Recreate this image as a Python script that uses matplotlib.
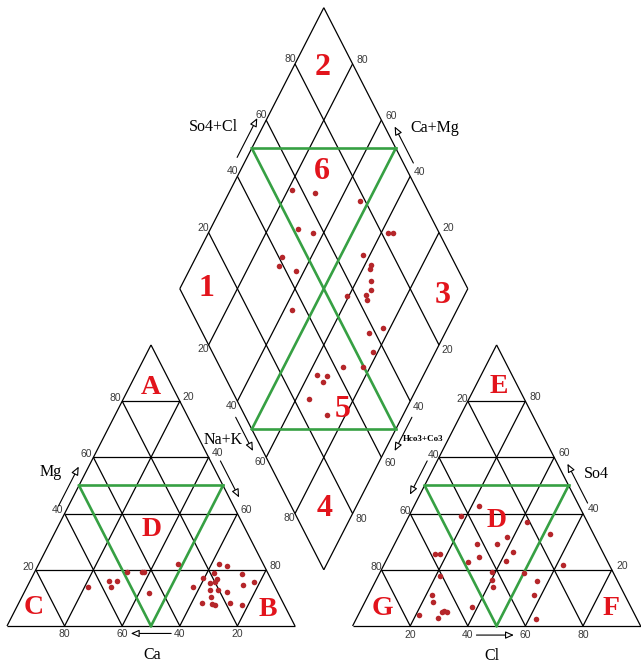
import numpy as np
import matplotlib.pyplot as plt

# cations in % meq/l (left triangle), Na+K is the rest
ca = [65.0, 56.4, 53.9, 57.0, 48.8, 43.6, 43.0, 44.9, 29.5,
      15.4, 13.0, 18.6, 23.2, 18.8, 20.0, 28.3, 21.9, 9.1, 10.7,
      6.2, 23.1, 20.4, 17.4, 24.0, 28.3, 24.8, 24.0, 18.5, 14.5]
mg = [13.9, 16.1, 16.0, 14.0, 19.3, 19.3, 19.2, 11.6, 22.1,
      22.0, 21.4, 18.8, 17.2, 16.7, 15.6, 14.0, 15.2, 18.4, 14.6,
      15.8, 12.8, 12.8, 12.2, 10.4, 8.1, 7.7, 7.5, 8.1, 7.5]

# anions in % meq/l (right triangle), Hco3+Co3 is the rest
cl = [22.6, 18.1, 41.9, 52.4, 37.8, 28.7, 35.7, 15.8, 17.5, 42.7,
      31.8, 28.7, 41.7, 62.1, 21.4, 38.6, 50.1, 40.1, 56.1, 42.0,
      22.0, 23.7, 57.5, 38.0, 28.4, 29.1, 30.2, 21.1, 28.2, 62.4]
so4 = [42.8, 39.1, 37.1, 32.6, 31.8, 29.2, 29.1, 25.6, 25.6, 26.2,
       24.4, 22.9, 23.2, 21.6, 17.9, 19.3, 19.0, 16.4, 16.1, 13.7,
       11.0, 8.6, 11.0, 6.9, 5.1, 5.4, 5.1, 3.9, 2.7, 2.5]

# diamond : So4+Cl and Ca+Mg in %
so4_cl = [56.6, 63.9, 78.2, 51.5, 56.2, 82.4, 83.9, 41.1, 38.5, 43.4,
          69.5, 70.7, 69.5, 68.0, 66.0, 56.8, 63.5, 63.0, 35.0, 63.5,
          57.8, 55.7, 42.8, 49.6, 32.2, 35.4, 33.1, 25.3, 28.6]
ca_mg = [78.5, 70.0, 53.1, 69.6, 63.5, 37.6, 36.0, 70.3, 69.5, 62.9,
         42.4, 37.7, 37.4, 34.9, 33.4, 40.7, 34.2, 33.0, 57.3, 22.6,
         26.4, 21.8, 29.3, 22.4, 37.1, 33.4, 33.8, 35.4, 26.5]

ticks = [20, 40, 60, 80]

gap = 20                 # space between the two triangles
h = np.sqrt(3) / 2

line_col = 'black'
green = '#36a043'
dot_col = '#b5262a'
red = '#e2141c'


def cation_xy(c, m):   # Ca, Mg -> plot coords
    c, m = np.asarray(c, float), np.asarray(m, float)
    return 100 - c - m / 2, m * h


def anion_xy(c, s):    # Cl, So4 -> plot coords
    c, s = np.asarray(c, float), np.asarray(s, float)
    return 100 + gap + c + s / 2, s * h


def diamond_xy(a, b):  # So4+Cl, Ca+Mg -> plot coords
    a, b = np.asarray(a, float), np.asarray(b, float)
    return 100 + gap / 2 + (a - b) / 2, gap / 2 * np.sqrt(3) + (a + b) * h


def seg(f, p, q, **kw):
    x0, y0 = f(*p)
    x1, y1 = f(*q)
    ax.plot([x0, x1], [y0, y1], **kw)


def arrow(f, p, q, off):
    x0, y0 = f(*p)
    x1, y1 = f(*q)
    ax.annotate('', xy=(x1 + off[0], y1 + off[1]), xytext=(x0 + off[0], y0 + off[1]),
                arrowprops=dict(arrowstyle='-|>,head_length=0.5,head_width=0.22',
                                fc='white', ec='black', lw=0.8, shrinkA=0, shrinkB=0))


fig = plt.figure(figsize=(6.41, 6.66), dpi=100)
ax = fig.add_axes([0, 0, 1, 1])
ax.set_xlim(-2.43, 220.14)
ax.set_ylim(-12.33, 192.9)
ax.axis('off')

lk = dict(color=line_col, lw=0.9, zorder=1, solid_capstyle='butt')

# triangle outlines and grids
for f, corners in [(cation_xy, [(100, 0), (0, 0), (0, 100), (100, 0)]),
                   (anion_xy, [(0, 0), (100, 0), (0, 100), (0, 0)])]:
    for p, q in zip(corners[:-1], corners[1:]):
        seg(f, p, q, **lk)
for t in ticks:
    seg(cation_xy, (100 - t, t), (0, t), **lk)       # Mg
    seg(cation_xy, (t, 0), (t, 100 - t), **lk)       # Ca
    seg(cation_xy, (100 - t, 0), (0, 100 - t), **lk)  # Na+K
    seg(anion_xy, (0, t), (100 - t, t), **lk)        # So4
    seg(anion_xy, (t, 0), (t, 100 - t), **lk)        # Cl
    seg(anion_xy, (0, 100 - t), (100 - t, 0), **lk)  # Hco3
    seg(diamond_xy, (t, 0), (t, 100), **lk)
    seg(diamond_xy, (0, t), (100, t), **lk)
for p, q in [((0, 0), (100, 0)), ((100, 0), (100, 100)),
             ((100, 100), (0, 100)), ((0, 100), (0, 0))]:
    seg(diamond_xy, p, q, **lk)

# green zones
gk = dict(color=green, lw=1.9, zorder=2)
for f, pts in [(cation_xy, [(50, 50), (0, 50), (50, 0), (50, 50)]),
               (anion_xy, [(0, 50), (50, 50), (50, 0), (0, 50)]),
               (diamond_xy, [(50, 100), (100, 50), (0, 50), (50, 0), (50, 100)])]:
    for p, q in zip(pts[:-1], pts[1:]):
        seg(f, p, q, **gk)

# samples
ax.scatter(*cation_xy(ca, mg), s=16, color=dot_col, zorder=3, lw=0)
ax.scatter(*anion_xy(cl, so4), s=16, color=dot_col, zorder=3, lw=0)
ax.scatter(*diamond_xy(so4_cl, ca_mg), s=16, color=dot_col, zorder=3, lw=0)

# tick labels
tk = dict(fontsize=7.5, color='#3a3a3a', family='Liberation Sans', va='center')
for t in ticks:
    s = str(t)
    x, y = cation_xy(100 - t, t)
    ax.text(x - 0.5, y + 1.0, s, ha='right', **tk)
    x, y = cation_xy(0, 100 - t)
    ax.text(x + 1.0, y + 1.2, s, ha='left', **tk)
    x, y = cation_xy(t, 0)
    ax.text(x, -2.5, s, ha='center', **tk)
    x, y = anion_xy(0, 100 - t)
    ax.text(x + 0.2, y + 0.8, s, ha='right', **tk)
    x, y = anion_xy(100 - t, t)
    ax.text(x + 1.5, y + 1.3, s, ha='left', **tk)
    x, y = anion_xy(t, 0)
    ax.text(x, -2.7, s, ha='center', **tk)
    x, y = diamond_xy(t, 100)
    ax.text(x + 0.3, y + 1.5, s, ha='right', **tk)
    x, y = diamond_xy(100, t)
    ax.text(x + 1.3, y + 1.3, s, ha='left', **tk)
    x, y = diamond_xy(0, 100 - t)
    ax.text(x, y - 1.4, s, ha='right', **tk)
    x, y = diamond_xy(100 - t, 0)
    ax.text(x + 1.0, y - 1.7, s, ha='left', **tk)

# axis names and arrows
nk = dict(fontsize=11.5, family='Liberation Serif', ha='center', va='center')
ax.text(15.3, 47.5, 'Mg', **nk)
ax.text(50.5, -8.9, 'Ca', **nk)
ax.text(75.2, 57.3, 'Na+K', **nk)
ax.text(71.7, 153.8, 'So4+Cl', **nk)
ax.text(148.6, 153.5, 'Ca+Mg', **nk)
ax.text(204.7, 46.8, 'So4', **nk)
ax.text(168.4, -9.4, 'Cl', **nk)
ax.text(144.6, 57.6, 'Hco3+Co3', fontsize=6.5, fontweight='bold',
        family='Liberation Serif', ha='center', va='center')

arrow(cation_xy, (59, 41), (45, 55), (-2.6, 1.5))
arrow(cation_xy, (0, 57), (0, 44), (2.6, 1.5))
arrow(cation_xy, (43, 0), (57, 0), (0, -2.3))
arrow(anion_xy, (58, 42), (44, 56), (2.6, 1.5))
arrow(anion_xy, (0, 57), (0, 45), (-2.6, 1.5))
arrow(anion_xy, (43, 0), (56, 0), (0, -2.8))
arrow(diamond_xy, (45, 100), (59, 100), (-2.6, 1.5))
arrow(diamond_xy, (100, 43), (100, 56), (2.6, 1.5))
arrow(diamond_xy, (0, 56), (0, 44), (-2.6, -1.5))
arrow(diamond_xy, (56, 0), (44, 0), (2.6, -1.5))

# zone names
zk = dict(color=red, family='Liberation Serif', fontweight='bold',
          ha='center', va='center', zorder=4)
for s, x, y in [('2', 109.7, 172.0), ('6', 109.4, 139.9), ('1', 69.4, 103.9),
                ('3', 151.2, 101.8), ('5', 116.7, 66.7), ('4', 110.2, 36.2)]:
    ax.text(x, y, s, fontsize=23, **zk)
for s, x, y in [('A', 49.8, 73.5), ('D', 50.1, 29.6), ('C', 9.1, 5.7), ('B', 90.7, 5.2),
                ('E', 170.8, 73.7), ('D', 170.1, 32.4), ('G', 130.2, 5.5), ('F', 209.7, 5.5)]:
    ax.text(x, y, s, fontsize=20, **zk)

plt.savefig('out.png', dpi=100)
